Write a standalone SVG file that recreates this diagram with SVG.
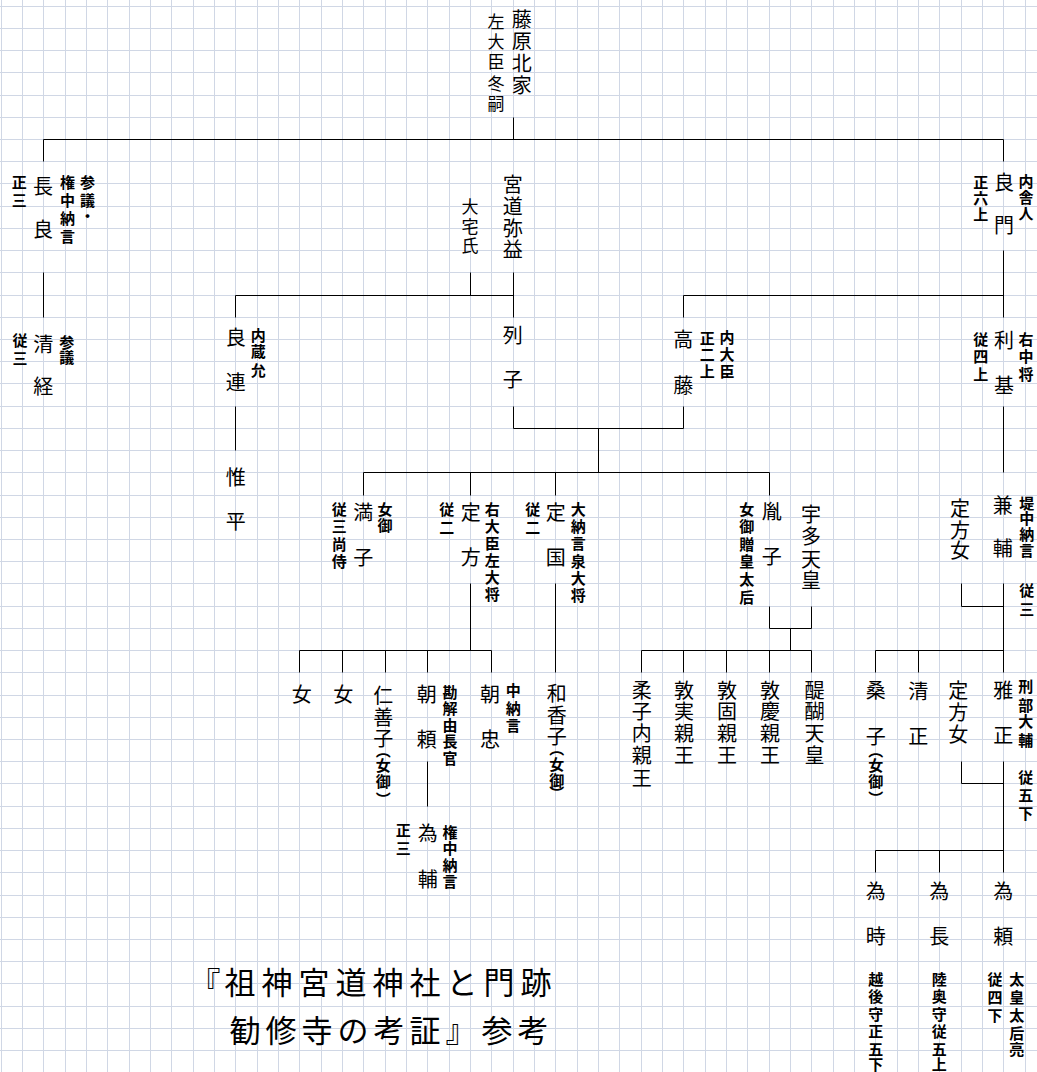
<svg xmlns="http://www.w3.org/2000/svg" width="1037" height="1072" viewBox="0 0 1037 1072">
<style>
.g{stroke:#d0d7e5;stroke-width:1;fill:none}
.c{stroke:#000;stroke-width:1;fill:none}
text{font-family:'Noto Sans CJK JP','Noto Sans CJK SC',sans-serif;text-anchor:middle;fill:#000}
.n,.m,.s{writing-mode:vertical-rl}
.n{font-size:20px}
.m{font-size:17px}
.s{font-size:15px;font-weight:bold}
.p{font-size:15px;font-weight:bold}
.t{font-size:31px}
</style>
<rect width="1037" height="1072" fill="#fff"/>
<g id="grid">
<path class="g" d="M1.5 0V1072M22.5 0V1072M43.5 0V1072M65.5 0V1072M86.5 0V1072M107.5 0V1072M129.5 0V1072M150.5 0V1072M171.5 0V1072M193.5 0V1072M214.5 0V1072M235.5 0V1072M257.5 0V1072M278.5 0V1072M299.5 0V1072M321.5 0V1072M342.5 0V1072M363.5 0V1072M385.5 0V1072M406.5 0V1072M427.5 0V1072M449.5 0V1072M470.5 0V1072M491.5 0V1072M513.5 0V1072M534.5 0V1072M555.5 0V1072M577.5 0V1072M598.5 0V1072M619.5 0V1072M641.5 0V1072M662.5 0V1072M683.5 0V1072M705.5 0V1072M726.5 0V1072M747.5 0V1072M769.5 0V1072M790.5 0V1072M811.5 0V1072M833.5 0V1072M854.5 0V1072M875.5 0V1072M897.5 0V1072M918.5 0V1072M939.5 0V1072M961.5 0V1072M982.5 0V1072M1003.5 0V1072M1025.5 0V1072"/>
<path class="g" d="M0 6.5H1037M0 28.5H1037M0 50.5H1037M0 72.5H1037M0 95.5H1037M0 117.5H1037M0 139.5H1037M0 161.5H1037M0 183.5H1037M0 206.5H1037M0 228.5H1037M0 250.5H1037M0 272.5H1037M0 295.5H1037M0 317.5H1037M0 339.5H1037M0 361.5H1037M0 383.5H1037M0 406.5H1037M0 428.5H1037M0 450.5H1037M0 472.5H1037M0 495.5H1037M0 517.5H1037M0 539.5H1037M0 561.5H1037M0 583.5H1037M0 606.5H1037M0 628.5H1037M0 650.5H1037M0 672.5H1037M0 695.5H1037M0 717.5H1037M0 739.5H1037M0 761.5H1037M0 783.5H1037M0 806.5H1037M0 828.5H1037M0 850.5H1037M0 872.5H1037M0 895.5H1037M0 917.5H1037M0 939.5H1037M0 961.5H1037M0 983.5H1037M0 1006.5H1037M0 1028.5H1037M0 1050.5H1037"/>
</g>
<g id="connectors">
<path class="c" d="M513.5 117.5V139.5M43.5 161.5V139.5H1003.5V161.5M43.5 272.5V317.5M470.5 272.5V295.5M513.5 272.5V317.5M235.5 317.5V295.5H513.5M1003.5 250.5V317.5M683.5 317.5V295.5H1003.5M235.5 406.5V450.5M513.5 406.5V428.5H683.5V406.5M598.5 428.5V472.5M363.5 495.5V472.5H769.5V495.5M470.5 472.5V495.5M555.5 472.5V495.5M1003.5 406.5V472.5M470.5 583.5V650.5M299.5 672.5V650.5H491.5V672.5M342.5 650.5V672.5M385.5 650.5V672.5M427.5 650.5V672.5M555.5 583.5V672.5M769.5 606.5V628.5H811.5V606.5M790.5 628.5V650.5M641.5 672.5V650.5H811.5V672.5M683.5 650.5V672.5M726.5 650.5V672.5M769.5 650.5V672.5M961.5 583.5V606.5H1003.5M1003.5 583.5V672.5M875.5 672.5V650.5H1003.5M918.5 650.5V672.5M1003.5 761.5V872.5M961.5 761.5V783.5H1003.5M875.5 872.5V850.5H1003.5M939.5 850.5V872.5M427.5 761.5V806.5"/>
</g>
<g id="n-fuyutsugu">
<text class="n"><tspan x="521.7" y="19.3">藤</tspan><tspan x="521.7" y="41.7">原</tspan><tspan x="521.7" y="63.3">北</tspan><tspan x="521.7" y="85">家</tspan></text>
<text class="m"><tspan x="496" y="21.7">左</tspan><tspan x="496" y="41.7">大</tspan><tspan x="496" y="61.7">臣</tspan><tspan x="496" y="83.3">冬</tspan><tspan x="496" y="103.3">嗣</tspan></text>
</g>
<g id="n-nagayoshi">
<text class="n"><tspan x="43" y="186.7">長</tspan><tspan x="43" y="229">良</tspan></text>
<text class="s"><tspan x="19.3" y="182.3">正</tspan><tspan x="19.3" y="200.7">三</tspan></text>
<text class="s"><tspan x="67.5" y="182.7">権</tspan><tspan x="67.5" y="200">中</tspan><tspan x="67.5" y="218.3">納</tspan><tspan x="67.5" y="236">言</tspan></text>
<text class="s"><tspan x="87.5" y="182.7">参</tspan><tspan x="87.5" y="200">議</tspan><tspan x="87.5" y="216.7">・</tspan></text>
</g>
<g id="n-iyamasu">
<text class="n"><tspan x="512.7" y="184">宮</tspan><tspan x="512.7" y="206.7">道</tspan><tspan x="512.7" y="228.3">弥</tspan><tspan x="512.7" y="249.3">益</tspan></text>
</g>
<g id="n-oyake">
<text class="m"><tspan x="470" y="206.7">大</tspan><tspan x="470" y="226.7">宅</tspan><tspan x="470" y="246">氏</tspan></text>
</g>
<g id="n-yoshikado">
<text class="n"><tspan x="1004" y="182.5">良</tspan><tspan x="1004" y="225.7">門</tspan></text>
<text class="s"><tspan x="980.7" y="182.3">正</tspan><tspan x="980.7" y="198.3">六</tspan><tspan x="980.7" y="214">上</tspan></text>
<text class="s"><tspan x="1026" y="181.7">内</tspan><tspan x="1026" y="197.3">舎</tspan><tspan x="1026" y="213.3">人</tspan></text>
</g>
<g id="n-kiyotsune">
<text class="n"><tspan x="43.3" y="344">清</tspan><tspan x="43.3" y="386.7">経</tspan></text>
<text class="s"><tspan x="20" y="340.7">従</tspan><tspan x="20" y="358.7">三</tspan></text>
<text class="s"><tspan x="66.7" y="342.3">参</tspan><tspan x="66.7" y="357.7">議</tspan></text>
</g>
<g id="n-yoshitsura">
<text class="n"><tspan x="235.7" y="337.3">良</tspan><tspan x="235.7" y="382.3">連</tspan></text>
<text class="s"><tspan x="258.3" y="335">内</tspan><tspan x="258.3" y="351.7">蔵</tspan><tspan x="258.3" y="370">允</tspan></text>
</g>
<g id="n-ressi">
<text class="n"><tspan x="512.7" y="335.7">列</tspan><tspan x="512.7" y="379">子</tspan></text>
</g>
<g id="n-takafuji">
<text class="n"><tspan x="683.3" y="339">高</tspan><tspan x="683.3" y="385">藤</tspan></text>
<text class="s"><tspan x="707.3" y="338.3">正</tspan><tspan x="707.3" y="354">二</tspan><tspan x="707.3" y="371.7">上</tspan></text>
<text class="s"><tspan x="727" y="337">内</tspan><tspan x="727" y="354">大</tspan><tspan x="727" y="371">臣</tspan></text>
</g>
<g id="n-toshimoto">
<text class="n"><tspan x="1004" y="340.7">利</tspan><tspan x="1004" y="385.7">基</tspan></text>
<text class="s"><tspan x="980.7" y="339">従</tspan><tspan x="980.7" y="356.5">四</tspan><tspan x="980.7" y="374">上</tspan></text>
<text class="s"><tspan x="1026" y="339">右</tspan><tspan x="1026" y="356.5">中</tspan><tspan x="1026" y="374">将</tspan></text>
</g>
<g id="n-korehira">
<text class="n"><tspan x="235.7" y="477.3">惟</tspan><tspan x="235.7" y="521">平</tspan></text>
</g>
<g id="n-michiko">
<text class="n"><tspan x="363.3" y="512.3">満</tspan><tspan x="363.3" y="557.3">子</tspan></text>
<text class="s"><tspan x="339.3" y="509">従</tspan><tspan x="339.3" y="526.5">三</tspan><tspan x="339.3" y="544">尚</tspan><tspan x="339.3" y="561.5">侍</tspan></text>
<text class="s"><tspan x="385" y="509">女</tspan><tspan x="385" y="525.7">御</tspan></text>
</g>
<g id="n-sadakata">
<text class="n"><tspan x="470.7" y="512.3">定</tspan><tspan x="470.7" y="557.3">方</tspan></text>
<text class="s"><tspan x="446.7" y="509">従</tspan><tspan x="446.7" y="527">二</tspan></text>
<text class="s"><tspan x="492.3" y="509">右</tspan><tspan x="492.3" y="526">大</tspan><tspan x="492.3" y="543">臣</tspan><tspan x="492.3" y="560">左</tspan><tspan x="492.3" y="577">大</tspan><tspan x="492.3" y="594">将</tspan></text>
</g>
<g id="n-sadakuni">
<text class="n"><tspan x="555.7" y="512.3">定</tspan><tspan x="555.7" y="557.3">国</tspan></text>
<text class="s"><tspan x="532.7" y="509">従</tspan><tspan x="532.7" y="527">二</tspan></text>
<text class="s"><tspan x="578.3" y="509">大</tspan><tspan x="578.3" y="526.3">納</tspan><tspan x="578.3" y="543.7">言</tspan><tspan x="578.3" y="561">泉</tspan><tspan x="578.3" y="578.3">大</tspan><tspan x="578.3" y="595.7">将</tspan></text>
</g>
<g id="n-taneko">
<text class="n"><tspan x="771.7" y="511.7">胤</tspan><tspan x="771.7" y="556.7">子</tspan></text>
<text class="s"><tspan x="746.7" y="509">女</tspan><tspan x="746.7" y="526.6">御</tspan><tspan x="746.7" y="544.2">贈</tspan><tspan x="746.7" y="561.8">皇</tspan><tspan x="746.7" y="579.4">太</tspan><tspan x="746.7" y="597">后</tspan></text>
</g>
<g id="n-uda">
<text class="n"><tspan x="811" y="514">宇</tspan><tspan x="811" y="536.7">多</tspan><tspan x="811" y="559">天</tspan><tspan x="811" y="580.7">皇</tspan></text>
</g>
<g id="n-sadakata-musume1">
<text class="n"><tspan x="960" y="508">定</tspan><tspan x="960" y="530">方</tspan><tspan x="960" y="550.7">女</tspan></text>
</g>
<g id="n-kanesuke">
<text class="n"><tspan x="1002.7" y="505.7">兼</tspan><tspan x="1002.7" y="548.3">輔</tspan></text>
<text class="s"><tspan x="1026.7" y="503">堤</tspan><tspan x="1026.7" y="518.8">中</tspan><tspan x="1026.7" y="534.6">納</tspan><tspan x="1026.7" y="550.4">言</tspan></text>
<text class="s"><tspan x="1026.7" y="590">従</tspan><tspan x="1026.7" y="609">三</tspan></text>
</g>
<g id="n-onna1">
<text class="n"><tspan x="301.7" y="694">女</tspan></text>
</g>
<g id="n-onna2">
<text class="n"><tspan x="343.3" y="694">女</tspan></text>
</g>
<g id="n-yoshiko">
<text class="n"><tspan x="383.3" y="695.7">仁</tspan><tspan x="383.3" y="717.3">善</tspan><tspan x="383.3" y="738.3">子</tspan><tspan class="p" x="383.3" y="750">（</tspan><tspan class="p" x="383.3" y="765">女</tspan><tspan class="p" x="383.3" y="781.7">御</tspan><tspan class="p" x="383.3" y="799">）</tspan></text>
</g>
<g id="n-tomoyori">
<text class="n"><tspan x="426.7" y="694">朝</tspan><tspan x="426.7" y="739">頼</tspan></text>
<text class="s"><tspan x="450" y="692">勘</tspan><tspan x="450" y="708.5">解</tspan><tspan x="450" y="725">由</tspan><tspan x="450" y="741.5">長</tspan><tspan x="450" y="758">官</tspan></text>
</g>
<g id="n-asatada">
<text class="n"><tspan x="490" y="694">朝</tspan><tspan x="490" y="739">忠</tspan></text>
<text class="s"><tspan x="513.3" y="690.7">中</tspan><tspan x="513.3" y="708.3">納</tspan><tspan x="513.3" y="725">言</tspan></text>
</g>
<g id="n-kagako">
<text class="n"><tspan x="556.7" y="693.3">和</tspan><tspan x="556.7" y="715">香</tspan><tspan x="556.7" y="736.7">子</tspan><tspan class="p" x="556.7" y="748">（</tspan><tspan class="p" x="556.7" y="764">女</tspan><tspan class="p" x="556.7" y="780">御</tspan><tspan class="p" x="556.7" y="793">）</tspan></text>
</g>
<g id="n-tamesuke">
<text class="n"><tspan x="427.7" y="833.3">為</tspan><tspan x="427.7" y="879">輔</tspan></text>
<text class="s"><tspan x="403.3" y="830.7">正</tspan><tspan x="403.3" y="848.3">三</tspan></text>
<text class="s"><tspan x="450" y="832">権</tspan><tspan x="450" y="848.5">中</tspan><tspan x="450" y="865">納</tspan><tspan x="450" y="881.5">言</tspan></text>
</g>
<g id="n-yoshiko-naishinno">
<text class="n"><tspan x="641.7" y="690">柔</tspan><tspan x="641.7" y="711.7">子</tspan><tspan x="641.7" y="733.3">内</tspan><tspan x="641.7" y="755.7">親</tspan><tspan x="641.7" y="778.3">王</tspan></text>
</g>
<g id="n-atsumi">
<text class="n"><tspan x="684" y="690">敦</tspan><tspan x="684" y="711.7">実</tspan><tspan x="684" y="733.3">親</tspan><tspan x="684" y="755.7">王</tspan></text>
</g>
<g id="n-atsukata">
<text class="n"><tspan x="727" y="690">敦</tspan><tspan x="727" y="711.7">固</tspan><tspan x="727" y="733.3">親</tspan><tspan x="727" y="755.7">王</tspan></text>
</g>
<g id="n-atsuyoshi">
<text class="n"><tspan x="770" y="690">敦</tspan><tspan x="770" y="711.7">慶</tspan><tspan x="770" y="733.3">親</tspan><tspan x="770" y="755.7">王</tspan></text>
</g>
<g id="n-daigo">
<text class="n"><tspan x="814.5" y="690">醍</tspan><tspan x="814.5" y="711.7">醐</tspan><tspan x="814.5" y="733.3">天</tspan><tspan x="814.5" y="755.7">皇</tspan></text>
</g>
<g id="n-kuwako">
<text class="n"><tspan x="875.7" y="690">桑</tspan><tspan x="875.7" y="736.7">子</tspan><tspan class="p" x="875.7" y="750">（</tspan><tspan class="p" x="875.7" y="765">女</tspan><tspan class="p" x="875.7" y="781.7">御</tspan><tspan class="p" x="875.7" y="798">）</tspan></text>
</g>
<g id="n-kiyotada">
<text class="n"><tspan x="918.3" y="691.7">清</tspan><tspan x="918.3" y="736.7">正</tspan></text>
</g>
<g id="n-sadakata-musume2">
<text class="n"><tspan x="958.3" y="690.7">定</tspan><tspan x="958.3" y="712.3">方</tspan><tspan x="958.3" y="734">女</tspan></text>
</g>
<g id="n-masatada">
<text class="n"><tspan x="1003.3" y="690.7">雅</tspan><tspan x="1003.3" y="735.7">正</tspan></text>
<text class="s"><tspan x="1025.7" y="686.7">刑</tspan><tspan x="1025.7" y="705">部</tspan><tspan x="1025.7" y="721.7">大</tspan><tspan x="1025.7" y="740">輔</tspan></text>
<text class="s"><tspan x="1025.7" y="777.3">従</tspan><tspan x="1025.7" y="795.7">五</tspan><tspan x="1025.7" y="813.3">下</tspan></text>
</g>
<g id="n-tametoki">
<text class="n"><tspan x="875.7" y="891.7">為</tspan><tspan x="875.7" y="936.7">時</tspan></text>
<text class="s"><tspan x="875.7" y="979">越</tspan><tspan x="875.7" y="996.5">後</tspan><tspan x="875.7" y="1014">守</tspan><tspan x="875.7" y="1031.5">正</tspan><tspan x="875.7" y="1049">五</tspan><tspan x="875.7" y="1064">下</tspan></text>
</g>
<g id="n-tamenaga">
<text class="n"><tspan x="939.3" y="891.7">為</tspan><tspan x="939.3" y="936.7">長</tspan></text>
<text class="s"><tspan x="939.3" y="979">陸</tspan><tspan x="939.3" y="996.5">奥</tspan><tspan x="939.3" y="1014">守</tspan><tspan x="939.3" y="1031.5">従</tspan><tspan x="939.3" y="1049">五</tspan><tspan x="939.3" y="1064">上</tspan></text>
</g>
<g id="n-tameyori">
<text class="n"><tspan x="1003.3" y="891.7">為</tspan><tspan x="1003.3" y="936.7">頼</tspan></text>
<text class="s"><tspan x="995" y="979">従</tspan><tspan x="995" y="997">四</tspan><tspan x="995" y="1015">下</tspan></text>
<text class="s"><tspan x="1016.7" y="979">太</tspan><tspan x="1016.7" y="997">皇</tspan><tspan x="1016.7" y="1015">太</tspan><tspan x="1016.7" y="1033">后</tspan><tspan x="1016.7" y="1049">亮</tspan></text>
</g>
<g id="title">
<text class="t"><tspan x="205" y="994">『</tspan><tspan x="240" y="994">祖</tspan><tspan x="277" y="994">神</tspan><tspan x="314" y="994">宮</tspan><tspan x="351" y="994">道</tspan><tspan x="388" y="994">神</tspan><tspan x="425" y="994">社</tspan><tspan x="462" y="994">と</tspan><tspan x="499" y="994">門</tspan><tspan x="536" y="994">跡</tspan></text>
<text class="t"><tspan x="245" y="1041.8">勧</tspan><tspan x="281" y="1041.8">修</tspan><tspan x="317" y="1041.8">寺</tspan><tspan x="353" y="1041.8">の</tspan><tspan x="389" y="1041.8">考</tspan><tspan x="425" y="1041.8">証</tspan><tspan x="461" y="1041.8">』</tspan><tspan x="497" y="1041.8">参</tspan><tspan x="533" y="1041.8">考</tspan></text>
</g>
</svg>
